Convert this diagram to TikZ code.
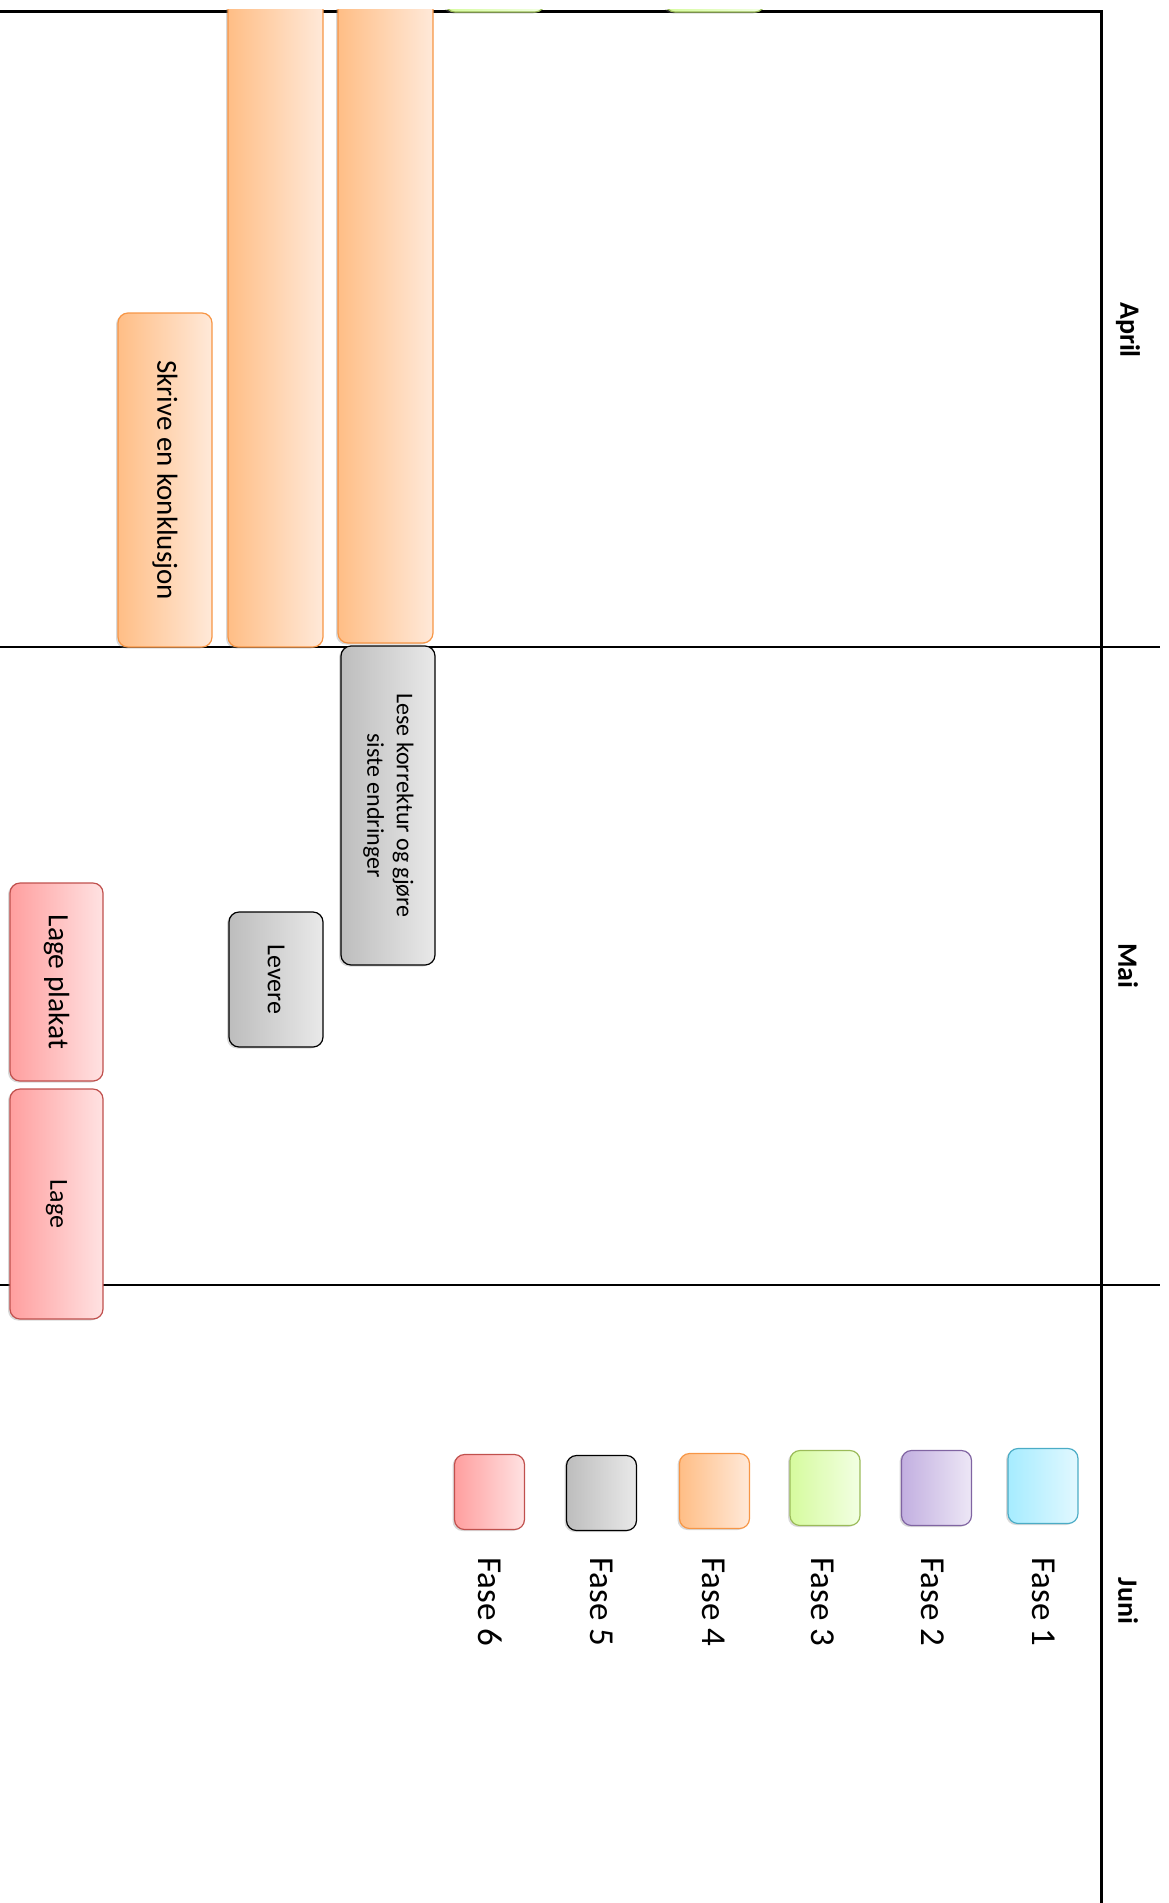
\documentclass[tikz,border=0pt]{standalone}
\usepackage{fontspec}
\setmainfont{Carlito}
\usepackage{graphicx}
\usepackage{xcolor}
\usetikzlibrary{shadows}

\definecolor{oLine}{HTML}{F79646}
\definecolor{oDark}{HTML}{FFBE86}
\definecolor{oLight}{HTML}{FFE9D9}
\definecolor{gDark}{HTML}{BDBDBD}
\definecolor{gLight}{HTML}{E9E9E9}
\definecolor{rLine}{HTML}{C0504D}
\definecolor{rDark}{HTML}{FF9F9F}
\definecolor{rLight}{HTML}{FFE2E2}
\definecolor{cLine}{HTML}{4BACC6}
\definecolor{cDark}{HTML}{A6ECFF}
\definecolor{cLight}{HTML}{E2F8FF}
\definecolor{pLine}{HTML}{8064A2}
\definecolor{pDark}{HTML}{C2AFE0}
\definecolor{pLight}{HTML}{EDE7F6}
\definecolor{lLine}{HTML}{9BBB59}
\definecolor{lDark}{HTML}{D6FB9E}
\definecolor{lLight}{HTML}{F2FFE3}

\newcommand{\vtext}[1]{\rotatebox[origin=c]{-90}{#1}}

\begin{document}
\begin{tikzpicture}[x=1pt,y=-1pt,
    box/.style={rounded corners=10pt,inner sep=0pt,line width=1.2pt,
      drop shadow={shadow xshift=-2pt,shadow yshift=-1.5pt,opacity=0.3}},
    fase1/.style={box,draw=cLine,left color=cDark,right color=cLight},
    fase2/.style={box,draw=pLine,left color=pDark,right color=pLight},
    fase3/.style={box,draw=lLine,left color=lDark,right color=lLight},
    fase4/.style={box,draw=oLine,left color=oDark,right color=oLight},
    fase5/.style={box,draw=black,left color=gDark,right color=gLight},
    fase6/.style={box,draw=rLine,left color=rDark,right color=rLight},
    month/.style={rotate=-90,font=\fontsize{28}{34}\selectfont\bfseries},
    legend/.style={rotate=-90,font=\fontsize{35}{42}\selectfont}]
      \useasboundingbox (0,0) rectangle (1168,1903);
      \clip (0,9) rectangle (1168,1903);
      % ramme og maaneder
      \draw [line width=3pt] (0,11) -- (1101,11) -- (1101,1903);
      \draw [line width=2pt] (0,647) -- (1160,647);
      \draw [line width=2pt] (0,1285) -- (1160,1285);
      \node[month] (april) at (1128,330) {April};
      \node[month] (mai) at (1128,966) {Mai};
      \node[month] (juni) at (1128,1601) {Juni};
      % aktiviteter
      \node[fase3,minimum width=100pt,minimum height=100pt] (topp1) at (495,-38) {};
      \node[fase3,minimum width=100pt,minimum height=100pt] (topp2) at (715,-38) {};
      \node[fase4,minimum width=95pt,minimum height=677pt] (bar1) at (275.5,308.5) {};
      \node[fase4,minimum width=95pt,minimum height=673pt] (bar2) at (385.5,306.5) {};
      \node[fase4,minimum width=94pt,minimum height=334pt,font=\fontsize{29}{35}\selectfont] (skrive) at (165,480) {\vtext{Skrive en konklusjon}};
      \node[fase5,minimum width=94pt,minimum height=319pt,font=\fontsize{24}{29.5}\selectfont] (lese) at (388,805.5)
        {\vtext{\begin{tabular}{@{}c@{}}Lese korrektur og gjøre\\siste endringer\end{tabular}}};
      \node[fase5,minimum width=94pt,minimum height=135pt,font=\fontsize{26}{31}\selectfont] (levere) at (276,979.5) {\vtext{Levere}};
      \node[fase6,minimum width=93pt,minimum height=198pt,font=\fontsize{29.5}{35}\selectfont] (plakat) at (56.5,982) {\vtext{Lage plakat}};
      \node[fase6,minimum width=93pt,minimum height=230pt,font=\fontsize{26}{31}\selectfont] (lage) at (56.5,1204) {\vtext{Lage}};
      % forklaring
      \node[fase1,minimum width=70pt,minimum height=75pt] (f1) at (1043,1486) {};
      \node[fase2,minimum width=70pt,minimum height=75pt] (f2) at (936.5,1488) {};
      \node[fase3,minimum width=70pt,minimum height=75pt] (f3) at (825,1488) {};
      \node[fase4,minimum width=70pt,minimum height=75pt] (f4) at (714.5,1491) {};
      \node[fase5,minimum width=70pt,minimum height=75pt] (f5) at (601.5,1493) {};
      \node[fase6,minimum width=70pt,minimum height=75pt] (f6) at (489.5,1492) {};
      \node[legend] (t1) at (1044,1602) {Fase 1};
      \node[legend] (t2) at (933,1602) {Fase 2};
      \node[legend] (t3) at (823,1602) {Fase 3};
      \node[legend] (t4) at (714,1602) {Fase 4};
      \node[legend] (t5) at (602,1602) {Fase 5};
      \node[legend] (t6) at (490,1602) {Fase 6};
\end{tikzpicture}
\end{document}
